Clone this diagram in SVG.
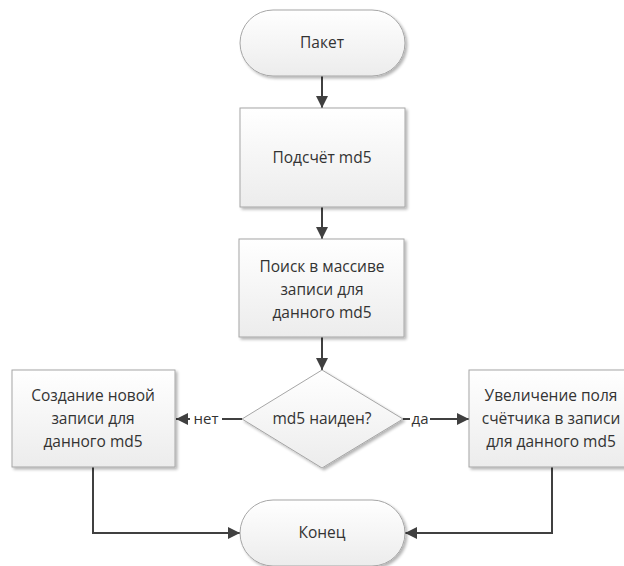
<svg xmlns="http://www.w3.org/2000/svg" width="624" height="566" viewBox="0 0 624 566">
<style>
.shape{fill:url(#g);stroke:#a6a6a6;stroke-width:1;filter:url(#sh)}
.t{font-family:"Open Sans","DejaVu Sans",sans-serif;font-size:15.5px;fill:#333333;text-anchor:middle}
.c{fill:none;stroke:#404040;stroke-width:2}
.lbl{font-family:"Open Sans","DejaVu Sans",sans-serif;font-size:15px;fill:#333333;text-anchor:middle}
</style>
<defs>
<linearGradient id="g" x1="0" y1="0" x2="0" y2="1">
<stop offset="0" stop-color="#ffffff"/>
<stop offset="1" stop-color="#ececec"/>
</linearGradient>
<filter id="sh" x="-10%" y="-10%" width="130%" height="130%">
<feGaussianBlur in="SourceAlpha" stdDeviation="1.5"/>
<feOffset dx="1.5" dy="2" result="b"/>
<feComponentTransfer><feFuncA type="linear" slope="0.3"/></feComponentTransfer>
<feMerge><feMergeNode/><feMergeNode in="SourceGraphic"/></feMerge>
</filter>
<marker id="a" viewBox="0 0 10 10" refX="10" refY="5" markerWidth="6" markerHeight="6" markerUnits="strokeWidth" orient="auto">
<path d="M0,0 L10,5 L0,10 z" fill="#404040"/>
</marker>
</defs>
<g id="connectors">
<line class="c" x1="322" y1="76" x2="322" y2="108" marker-end="url(#a)"/>
<line class="c" x1="322" y1="207" x2="322" y2="239" marker-end="url(#a)"/>
<line class="c" x1="322" y1="337" x2="322" y2="370" marker-end="url(#a)"/>
<line class="c" x1="242" y1="419" x2="176" y2="419" marker-end="url(#a)"/>
<line class="c" x1="403" y1="419" x2="469" y2="419" marker-end="url(#a)"/>
<polyline class="c" points="93,467 93,533 240,533" marker-end="url(#a)"/>
<polyline class="c" points="552,467 552,533 405,533" marker-end="url(#a)"/>
<rect x="190" y="409" width="32" height="20" fill="#ffffff"/>
<text class="lbl" x="206" y="424">нет</text>
<rect x="410" y="409" width="20" height="20" fill="#ffffff"/>
<text class="lbl" x="420" y="424">да</text>
</g>
<g id="start">
<rect class="shape" x="240" y="10" width="165" height="66" rx="33" ry="33"/>
<text class="t" x="322" y="48">Пакет</text>
</g>
<g id="md5calc">
<rect class="shape" x="240" y="108" width="165" height="99"/>
<text class="t" x="322" y="163">Подсчёт md5</text>
</g>
<g id="search">
<rect class="shape" x="239" y="239" width="165" height="98"/>
<text class="t" x="322" y="272">Поиск в массиве</text>
<text class="t" x="322" y="295">записи для</text>
<text class="t" x="322" y="318">данного md5</text>
</g>
<g id="decision">
<polygon class="shape" points="322,370 403,419 322,468 242,419"/>
<text class="t" x="322" y="424">md5 наиден?</text>
</g>
<g id="create">
<rect class="shape" x="12" y="370" width="163" height="97"/>
<text class="t" x="93" y="401">Создание новой</text>
<text class="t" x="93" y="424">записи для</text>
<text class="t" x="93" y="447">данного md5</text>
</g>
<g id="increment">
<rect class="shape" x="469" y="370" width="165" height="97"/>
<text class="t" x="551" y="401">Увеличение поля</text>
<text class="t" x="551" y="424">счётчика в записи</text>
<text class="t" x="551" y="447">для данного md5</text>
</g>
<g id="end">
<rect class="shape" x="240" y="500" width="165" height="66" rx="33" ry="33"/>
<text class="t" x="322" y="538">Конец</text>
</g>
</svg>
